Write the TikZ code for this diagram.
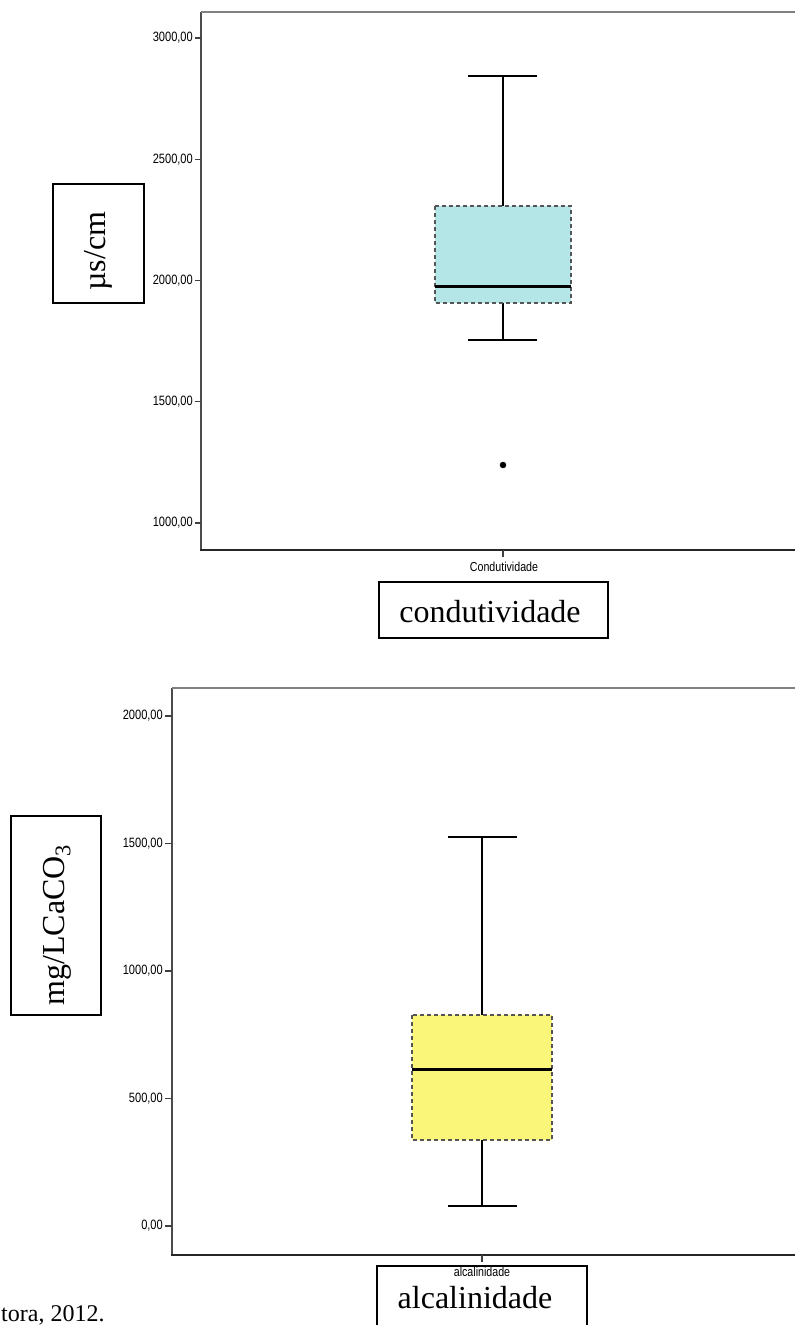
\documentclass[tikz,border=0pt]{standalone}
\usepackage{fontspec}
\setmainfont{Liberation Serif}
\newfontfamily\axisfont[FakeStretch=0.82]{Liberation Sans}
\definecolor{boxcyan}{RGB}{180,230,232}
\definecolor{boxyellow}{RGB}{249,246,122}
\definecolor{framegray}{RGB}{128,128,128}
\definecolor{dashgray}{RGB}{85,85,85}

\begin{document}
\begin{tikzpicture}[x=1pt,y=-1pt,
  frametop/.style={line width=2pt, draw=framegray},
  frameside/.style={line width=1.5pt, draw=black!70},
  framebottom/.style={line width=1.5pt, draw=black!85},
  ticklabel/.style={font=\axisfont\fontsize{13.5}{14}\selectfont, anchor=east, inner sep=0pt},
  catlabel/.style={font=\axisfont\fontsize{13}{14}\selectfont, inner sep=0pt},
  tickmark/.style={line width=1.2pt, draw=black!75},
  whisker/.style={line width=1.2pt, draw=black},
  iqrbox/.style={draw=dashgray, line width=1.4pt, dash pattern=on 4pt off 3pt},
  median/.style={line width=3pt, draw=black},
  labelframe/.style={draw=black, line width=1.4pt},
  bigtext/.style={font=\fontsize{32}{36}\selectfont, inner sep=0pt},
  outlier/.style={fill=black, draw=black}
]
\useasboundingbox (0,0) rectangle (795,1325);

% ---------- upper chart: conductivity ----------
\draw[frameside] (201,12) -- (201,550);
\draw[frametop] (201,12) -- (797,12);
\draw[framebottom] (200,550) -- (797,550);

\foreach \v/\y in {3000/38, 2500/159.25, 2000/280.5, 1500/401.75, 1000/523}{
  \draw[tickmark] (195,\y) -- (201,\y);
  \node[ticklabel] (ct\v) at (193,\y) {\v,00};
}

% whiskers
\draw[whisker] (503,76) -- (503,206);
\draw[whisker] (468,76) -- (537,76);
\draw[whisker] (503,303) -- (503,340);
\draw[whisker] (468,340) -- (537,340);
% box
\fill[boxcyan] (435,206) rectangle (571,303);
\draw[iqrbox] (435,206) rectangle (571,303);
\draw[median] (435,286) -- (571,286);
% outlier
\fill[outlier] (503,465) circle (3);

% category axis
\draw[tickmark] (503,550) -- (503,557);
\node[catlabel] (ccat) at (504,567) {Condutividade};

% unit and title boxes
\draw[labelframe] (53,184) rectangle (144,303);
\node[bigtext, rotate=90] (cunit) at (98,251) {µs/cm};
\draw[labelframe] (379,582) rectangle (608,638);
\node[bigtext, anchor=base] (ctitle) at (490,622) {condutividade};

% ---------- lower chart: alkalinity ----------
\draw[frameside] (172,688) -- (172,1255);
\draw[frametop] (172,688) -- (797,688);
\draw[framebottom] (171,1255) -- (797,1255);

\foreach \v/\y in {2000/716, 1500/843.5, 1000/971, 500/1098.5, 0/1226}{
  \draw[tickmark] (165,\y) -- (172,\y);
  \node[ticklabel] (at\v) at (163,\y) {\v,00};
}

% whiskers
\draw[whisker] (482,837) -- (482,1015);
\draw[whisker] (448,837) -- (517,837);
\draw[whisker] (482,1140) -- (482,1206);
\draw[whisker] (448,1206) -- (517,1206);
% box
\fill[boxyellow] (412,1015) rectangle (552,1140);
\draw[iqrbox] (412,1015) rectangle (552,1140);
\draw[median] (412,1069) -- (552,1069);

% category axis
\draw[tickmark] (482,1255) -- (482,1262);

% unit and title boxes
\draw[labelframe] (11,816) rectangle (101,1015);
\node[bigtext, rotate=90] (aunit) at (57,925) {mg/LCaCO\textsubscript{3}};
\draw[labelframe] (377,1266) rectangle (587,1340);
\node[catlabel] (acat) at (482,1272) {alcalinidade};
\node[bigtext, anchor=base] (atitle) at (475,1308) {alcalinidade};

% source line
\node[font=\fontsize{24}{26}\selectfont, anchor=base west, inner sep=0pt] (src) at (1,1321) {tora, 2012.};
\end{tikzpicture}
\end{document}
